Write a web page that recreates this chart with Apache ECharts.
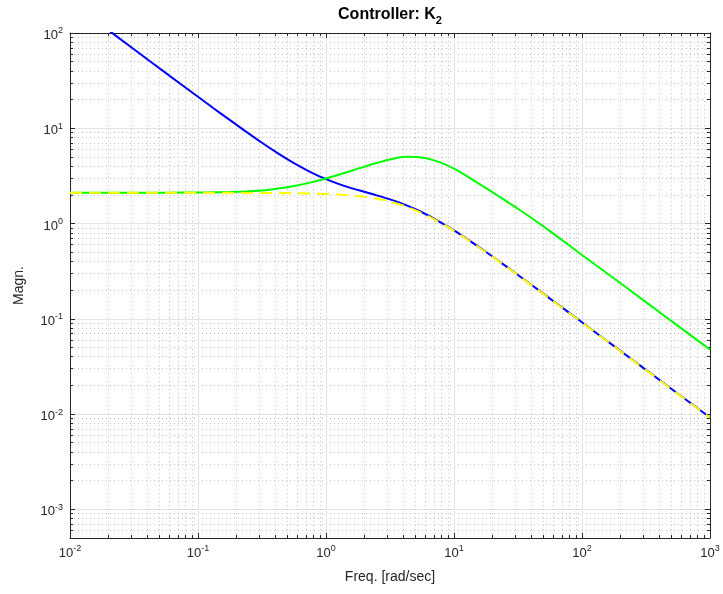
<!DOCTYPE html>
<html><head><meta charset="utf-8">
<script src="https://cdn.jsdelivr.net/npm/echarts@6/dist/echarts.min.js"></script>
<style>html,body{margin:0;padding:0;background:#fff}#c{width:723px;height:594px}</style>
</head><body><div id="c"></div>
<script>
// ---- data (frequency in rad/sec, magnitude) ----
const freq = [0.01, 0.0178, 0.0316, 0.0562, 0.1, 0.133, 0.178, 0.237, 0.316, 0.422, 0.562, 0.75, 1, 1.33, 1.78, 2.37, 3.16, 4.22, 5.62, 7.5, 10, 13.3, 17.8, 23.7, 31.6, 42.2, 56.2, 75, 100, 178, 316, 562, 1000];
const magBlue = [213, 120, 67.5, 37.9, 21.4, 16.1, 12.16, 9.23, 7.04, 5.45, 4.30, 3.49, 2.92, 2.53, 2.246, 2.014, 1.792, 1.559, 1.313, 1.069, 0.847, 0.657, 0.503, 0.382, 0.288, 0.217, 0.163, 0.1225, 0.0919, 0.0517, 0.0291, 0.01636, 0.0092];
const magGreen = [2.099, 2.099, 2.104, 2.109, 2.118, 2.128, 2.143, 2.173, 2.218, 2.328, 2.483, 2.689, 2.965, 3.327, 3.767, 4.246, 4.710, 5.012, 4.943, 4.467, 3.776, 2.999, 2.355, 1.837, 1.429, 1.096, 0.832, 0.624, 0.468, 0.265, 0.1496, 0.0843, 0.0475];
const magYellow = [2.10, 2.10, 2.10, 2.10, 2.10, 2.10, 2.098, 2.096, 2.094, 2.09, 2.082, 2.068, 2.046, 2.007, 1.944, 1.844, 1.699, 1.509, 1.286, 1.055, 0.839, 0.652, 0.500, 0.380, 0.2866, 0.2158, 0.1622, 0.1218, 0.0914, 0.0514, 0.0289, 0.01627, 0.00915];
const xRange = [0.01, 1000];
const yRange = [5e-4, 100];
const xDecades = [-2, -1, 0, 1, 2, 3];
const yDecades = [-3, -2, -1, 0, 1, 2];
const minorMult = [2, 3, 4, 5, 6, 7, 8, 9];
const titleText = '{t|Controller: K}{s|2}';
const xName = 'Freq. [rad/sec]';
const yName = 'Magn.';

const L = Math.log10;
const F = "'Liberation Sans', Arial, Helvetica, sans-serif";
const axisColor = '#262626';
const xmin = L(xRange[0]), xmax = L(xRange[1]);
const ymin = L(yRange[0]), ymax = L(yRange[1]);
const G = { left: 70, right: 13, top: 33, bottom: 56 };

function minorVals(lo, hi) {
  const out = [];
  for (let n = Math.floor(lo) - 1; n <= Math.ceil(hi); n++) {
    for (const k of minorMult) {
      const v = n + L(k);
      if (v >= lo - 1e-9 && v <= hi + 1e-9) out.push(v);
    }
  }
  return out;
}
const xMinor = minorVals(xmin, xmax);
const yMinor = minorVals(ymin, ymax);

const fmt = v => '{b|10}{s|' + Math.round(v) + '}';
const rich = {
  b: { fontSize: 13, lineHeight: 13, padding: [5, 0, 0, 0], color: axisColor, fontFamily: F },
  s: { fontSize: 9, lineHeight: 9, verticalAlign: 'top', color: axisColor, fontFamily: F }
};
const majorGrid = { show: true, lineStyle: { color: '#e3e3e3', width: 1 } };
const minorGrid = { show: true, lineStyle: { color: '#c4c4c4', width: 1, type: [1, 3] } };

function axis(kind, pos, vals, extra) {
  const isMajor = kind === 'major';
  const horiz = pos === 'bottom' || pos === 'top';
  const a = {
    type: 'value', position: pos,
    min: horiz ? xmin : ymin,
    max: horiz ? xmax : ymax,
    axisLine: { show: isMajor, onZero: false, lineStyle: { color: axisColor, width: 1 } },
    axisTick: { show: true, inside: true, length: isMajor ? 5 : 3, customValues: vals, lineStyle: { color: axisColor, width: 1 } },
    axisLabel: { show: false },
    splitLine: { show: false }
  };
  return Object.assign(a, extra || {});
}

const xAxes = [
  axis('major', 'bottom', xDecades, {
    axisLabel: { show: true, customValues: xDecades, formatter: fmt, rich: rich, margin: 6 },
    splitLine: majorGrid,
    name: xName, nameLocation: 'middle', nameGap: 32,
    nameTextStyle: { fontSize: 14, color: axisColor, fontFamily: F }
  }),
  axis('minor', 'bottom', xMinor, { splitLine: minorGrid }),
  axis('major', 'top', xDecades),
  axis('minor', 'top', xMinor)
];
const yAxes = [
  axis('major', 'left', yDecades, {
    axisLabel: { show: true, customValues: yDecades, formatter: fmt, rich: rich, margin: 7 },
    splitLine: majorGrid,
    name: yName, nameLocation: 'middle', nameGap: 44,
    nameTextStyle: { fontSize: 14, color: axisColor, fontFamily: F }
  }),
  axis('minor', 'left', yMinor, { splitLine: minorGrid }),
  axis('major', 'right', yDecades),
  axis('minor', 'right', yMinor)
];

function mk(mag, color, dash) {
  return {
    type: 'line', xAxisIndex: 0, yAxisIndex: 0,
    data: freq.map((f, i) => [L(f), L(mag[i])]),
    showSymbol: false, smooth: 0.3, clip: true, animation: false,
    lineStyle: { color: color, width: 2, type: dash || 'solid' }
  };
}

const chart = echarts.init(document.getElementById('c'), null, { renderer: 'canvas' });
chart.setOption({
  animation: false,
  backgroundColor: '#ffffff',
  grid: { left: G.left, right: G.right, top: G.top, bottom: G.bottom, containLabel: false, outerBoundsMode: 'none' },
  graphic: [{
    type: 'text',
    x: G.left + (723 - G.left - G.right) / 2,
    y: 18,
    style: {
      text: titleText,
      align: 'center', verticalAlign: 'middle',
      fill: '#000',
      rich: {
        t: { fontSize: 16, lineHeight: 16, padding: [0, 0, 6, 0], fontWeight: 'bold', fill: '#000', fontFamily: F },
        s: { fontSize: 11, lineHeight: 11, verticalAlign: 'bottom', fontWeight: 'bold', fill: '#000', fontFamily: F }
      }
    }
  }],
  xAxis: xAxes,
  yAxis: yAxes,
  series: [
    mk(magBlue, '#0000ff'),
    mk(magGreen, '#00ff00'),
    mk(magYellow, '#ffff00', [12, 7])
  ]
});
</script></body></html>
